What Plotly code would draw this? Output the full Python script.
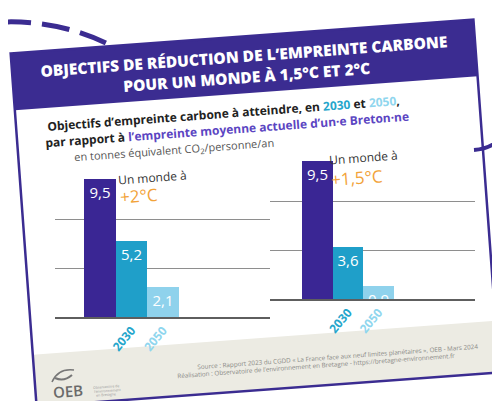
import math
import plotly.graph_objects as go

# ---------------- data ----------------
categories = ["Actuelle", "2030", "2050"]
tick_labels = ["", "2030", "2050"]
values_2c = [9.5, 5.2, 2.1]
values_15c = [9.5, 3.6, 0.9]
reductions_2c = ["", "-45%", "-78%"]
reductions_15c = ["", "-62%", "-91%"]
scenario_top = ["Un monde à", "Un monde à"]
scenario_temp = ["+2°C", "+1,5°C"]

title_lines = ["OBJECTIFS DE RÉDUCTION DE L’EMPREINTE CARBONE",
               "POUR UN MONDE À 1,5°C ET 2°C"]
unit_text = "en tonnes équivalent CO<sub>2</sub>/personne/an"
source_lines = [
    "Source : Rapport 2023 du CGDD « La France face aux neuf limites planétaires », OEB - Mars 2024",
    "Réalisation : Observatoire de l’environnement en Bretagne - https://bretagne-environnement.fr",
]

# ---------------- styles ----------------
W, H = 500, 401
PURPLE = "#3b2c91"
BAR_COLORS = ["#3a2694", "#1f9fc9", "#8fd2ec"]
TEAL = "#25a6cc"
LIGHT = "#8fd6ee"
MID_PURPLE = "#5b45c2"
ORANGE = "#f2a33a"
FONT = "Open Sans"
ANG = 4.2  # tilt of the card (degrees)


def P(x, y):
    return x / W, 1 - y / H


CX, CY = 247, 205
c, s = math.cos(math.radians(ANG)), math.sin(math.radians(ANG))


def rot(u, v):
    return CX + u * c + v * s, CY - u * s + v * c


def rect_path(u0, u1, v0, v1):
    pts = [rot(u0, v0), rot(u1, v0), rot(u1, v1), rot(u0, v1)]
    pp = [P(*p) for p in pts]
    return "M " + " L ".join(f"{x:.5f},{y:.5f}" for x, y in pp) + " Z"


def pix_path(cmd):
    out = []
    for letter, coords in cmd:
        pts = []
        for i in range(0, len(coords), 2):
            x, y = P(coords[i], coords[i + 1])
            pts.append(f"{x:.5f},{y:.5f}")
        out.append(letter + " " + " ".join(pts))
    return " ".join(out)


HW, HH = 232, 177
shapes = []
shapes.append(dict(type="path", xref="paper", yref="paper", layer="below",
                   path=rect_path(-HW, HW, -HH, HH), fillcolor="#ffffff",
                   line=dict(width=0)))
shapes.append(dict(type="path", xref="paper", yref="paper", layer="below",
                   path=rect_path(-HW, HW, 125, HH), fillcolor="#ecebe3",
                   line=dict(width=0)))
shapes.append(dict(type="path", xref="paper", yref="paper", layer="below",
                   path=rect_path(-HW, HW, -HH, -HH + 57), fillcolor=PURPLE,
                   line=dict(width=0)))
shapes.append(dict(type="path", xref="paper", yref="paper", layer="above",
                   path=rect_path(-HW, HW, -HH, HH), fillcolor="rgba(0,0,0,0)",
                   line=dict(color=PURPLE, width=2.5)))
shapes.append(dict(type="path", xref="paper", yref="paper", layer="below",
                   path=pix_path([("M", [-5, 14]), ("Q", [55, 12, 108, 40])]),
                   line=dict(color=PURPLE, width=5, dash="28px,11px")))
shapes.append(dict(type="path", xref="paper", yref="paper", layer="below",
                   path=pix_path([("M", [466, 142]), ("Q", [492, 140, 502, 116])]),
                   line=dict(color=PURPLE, width=4)))
shapes.append(dict(type="path", xref="paper", yref="paper", layer="above",
                   path=pix_path([("M", [44, 374]), ("Q", [50, 360, 66, 362])]),
                   line=dict(color="#777777", width=1.5)))
shapes.append(dict(type="path", xref="paper", yref="paper", layer="above",
                   path=pix_path([("M", [47, 370]), ("Q", [56, 374, 64, 367])]),
                   line=dict(color="#777777", width=2)))

annotations = []


def txt(x, y, text, size, color, weight=400, angle=-ANG, family=FONT, **kw):
    px, py = P(x, y)
    d = dict(x=px, y=py, xref="paper", yref="paper", text=text, showarrow=False,
             textangle=angle, xanchor="center", yanchor="middle",
             font=dict(family=family, size=size, color=color, weight=weight))
    d.update(kw)
    annotations.append(d)


# title
txt(236, 48, title_lines[0], 15.5, "#ffffff", weight=800)
txt(238, 69, title_lines[1], 15.5, "#ffffff", weight=800)
# subtitle
sub1 = ("Objectifs d’empreinte carbone à atteindre, en "
        f"<span style='color:{TEAL}'>2030</span> et "
        f"<span style='color:{LIGHT}'>2050</span>,")
sub2 = ("par rapport à "
        f"<span style='color:{MID_PURPLE}'>l’empreinte moyenne actuelle d’un·e Breton·ne</span>")
txt(215, 106, sub1, 12.0, "#222222", weight=700)
txt(219, 122, sub2, 12.0, "#222222", weight=700)
txt(166, 142, unit_text, 11, "#555555")
# footer
txt(330, 348, source_lines[0], 6.3, "#8a8a86")
txt(308, 357, source_lines[1], 6.3, "#8a8a86")
txt(60, 383, "OEB", 15, "#6a6a6a", weight=600)
txt(98, 378, "Observatoire de", 3.5, "#999999")
txt(99, 382, "l’environnement", 3.5, "#999999")
txt(98, 386, "en Bretagne", 3.5, "#999999")

# ---------------- bars ----------------
fig = go.Figure()
groups = [
    dict(vals=values_2c, red=reductions_2c, xa="x", ya="y"),
    dict(vals=values_15c, red=reductions_15c, xa="x2", ya="y2"),
]
for g in groups:
    fig.add_trace(go.Bar(
        x=categories, y=g["vals"], xaxis=g["xa"], yaxis=g["ya"],
        width=1, marker=dict(color=BAR_COLORS, line=dict(width=0)),
        text=[f"{v:.1f}".replace(".", ",") for v in g["vals"]],
        textposition="inside", insidetextanchor="end",
        textfont=dict(family=FONT, size=15, color="#ffffff"),
        constraintext="none", cliponaxis=False, hoverinfo="skip",
        showlegend=False,
    ))
    for cat, v, r in zip(categories, g["vals"], g["red"]):
        if r:
            annotations.append(dict(
                x=cat, y=v, xref=g["xa"], yref=g["ya"], text=r, showarrow=False,
                yanchor="bottom", yshift=1, textangle=-ANG,
                font=dict(family=FONT, size=8, color=PURPLE)))

scen_pos = [(0.5, 9.55, 0.53, 8.3, "x", "y"), (0.3, 9.7, 0.35, 8.3, "x2", "y2")]
for (xa1_, ya1_, xa2_, ya2_, xr, yr), top, temp in zip(scen_pos, scenario_top, scenario_temp):
    annotations.append(dict(x=xa1_, y=ya1_, xref=xr, yref=yr, text=top, showarrow=False,
                            xanchor="left", yanchor="middle", textangle=-ANG,
                            font=dict(family=FONT, size=12, color="#333333")))
    annotations.append(dict(x=xa2_, y=ya2_, xref=xr, yref=yr, text=temp, showarrow=False,
                            xanchor="left", yanchor="middle", textangle=-ANG,
                            font=dict(family=FONT, size=17, color=ORANGE)))

ticktext = [""] + [f"<span style='color:{col}'>{t}</span>"
                   for t, col in zip(tick_labels[1:], [TEAL, LIGHT])]

YMAX = 10.3
SCALE = 14.6  # px per unit


def axes(dom_px, base_px, center_px, unit_px):
    x0, x1 = dom_px
    start = -(center_px - x0) / unit_px
    end = start + (x1 - x0) / unit_px
    ybot = 1 - base_px / H
    ytop = 1 - (base_px - YMAX * SCALE) / H
    xa = dict(domain=[x0 / W, x1 / W], range=[start, end], type="category",
              tickmode="array", tickvals=categories, ticktext=ticktext,
              tickangle=-50, ticks="", showgrid=False, zeroline=False,
              showline=True, linecolor="#5e5e5e", linewidth=1.5,
              tickfont=dict(family=FONT, size=12, weight=700), fixedrange=True)
    ya = dict(domain=[ybot, ytop], range=[0, YMAX], tickvals=[10 / 3, 20 / 3],
              showticklabels=False, showgrid=True, gridcolor="#8e8e8e",
              gridwidth=1, zeroline=False, showline=False, fixedrange=True)
    return xa, ya


xa1, ya1 = axes((47, 262), 309, 92, 31.5)
xa2, ya2 = axes((262, 467), 291, 309.5, 30.5)
xa1["anchor"] = "y"
ya1["anchor"] = "x"
xa2["anchor"] = "y2"
ya2["anchor"] = "x2"

fig.update_layout(
    width=W, height=H, autosize=False,
    margin=dict(l=0, r=0, t=0, b=0),
    paper_bgcolor="#ffffff", plot_bgcolor="rgba(0,0,0,0)",
    xaxis=xa1, yaxis=ya1, xaxis2=xa2, yaxis2=ya2,
    bargap=0, shapes=shapes, annotations=annotations,
    uniformtext=dict(minsize=15, mode="show"),
    font=dict(family=FONT),
)

fig.write_html("out.html", config={"displayModeBar": False})
